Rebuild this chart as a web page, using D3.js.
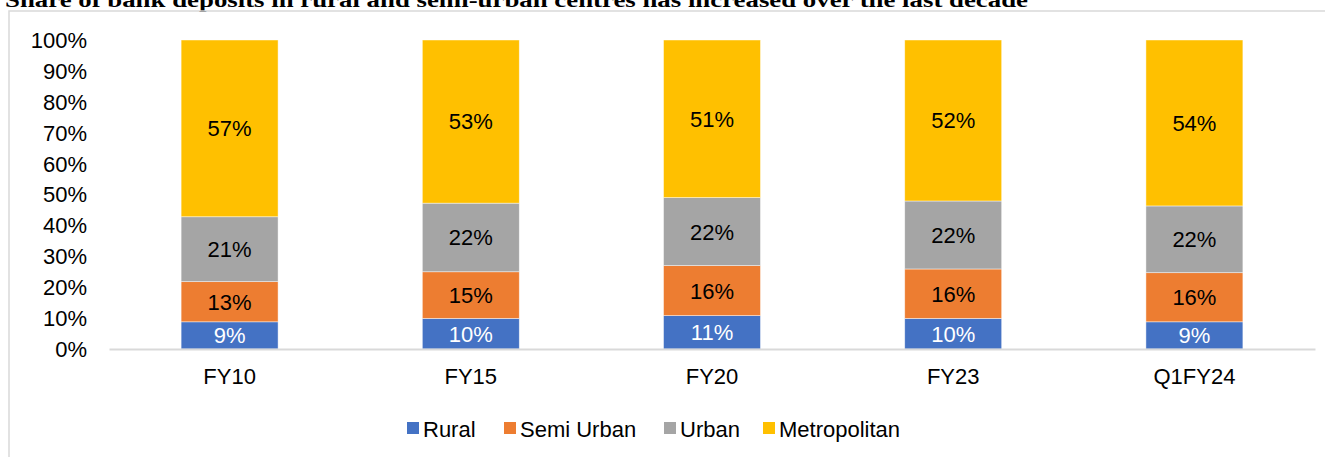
<!DOCTYPE html>
<html>
<head>
<meta charset="utf-8">
<script src="https://cdn.jsdelivr.net/npm/d3@7"></script>
<style>
  body { margin: 0; background: #fff; }
  svg { display: block; }
</style>
</head>
<body>
<div id="chart"></div>
<script>
// data (percent share of deposits)
const categories = ["FY10", "FY15", "FY20", "FY23", "Q1FY24"];
const seriesNames = ["Rural", "Semi Urban", "Urban", "Metropolitan"];
const rural = [8.8, 9.9, 10.8, 9.9, 8.8];
const semiUrban = [13.0, 15.1, 16.2, 16.0, 15.9];
const urban = [21.0, 22.2, 22.0, 22.0, 21.6];
const metropolitan = [57.2, 52.8, 51.0, 52.1, 53.7];
const labels = [
  ["9%", "10%", "11%", "10%", "9%"],
  ["13%", "15%", "16%", "16%", "16%"],
  ["21%", "22%", "22%", "22%", "22%"],
  ["57%", "53%", "51%", "52%", "54%"]
];
const yTicks = [0, 10, 20, 30, 40, 50, 60, 70, 80, 90, 100];
const title = "Share of bank deposits in rural and semi-urban centres has increased over the last decade";

const colors = ["#4472C4", "#ED7D31", "#A5A5A5", "#FFC000"];
const labelColors = ["#ffffff", "#000000", "#000000", "#000000"];

let width = 1325, height = 457;
let margin = { top: 40, right: 10, bottom: 108, left: 109 };
const FONT = "'Liberation Sans', Arial, sans-serif";
const FS = 22;

const table = categories.map((c, i) => ({
  cat: c,
  "Rural": rural[i],
  "Semi Urban": semiUrban[i],
  "Urban": urban[i],
  "Metropolitan": metropolitan[i]
}));

const stack = d3.stack().keys(seriesNames);
const layers = stack(table);

const svg = d3.select("#chart").append("svg")
  .attr("width", width)
  .attr("height", height);

// title (clipped at top like the source)
svg.append("text")
  .attr("x", 5)
  .attr("y", 7)
  .attr("font-family", "'Liberation Serif', 'Times New Roman', serif")
  .attr("font-weight", "bold")
  .attr("font-size", 21)
  .attr("textLength", 1023)
  .attr("lengthAdjust", "spacingAndGlyphs")
  .text(title);

// chart frame
svg.append("rect")
  .attr("x", 9)
  .attr("y", 11)
  .attr("width", width)
  .attr("height", height)
  .attr("fill", "none")
  .attr("stroke", "#d9d9d9")
  .attr("stroke-width", 1.5);

let x = d3.scaleBand()
  .domain(categories)
  .range([margin.left, 1315])
  .paddingInner(0.598)
  .paddingOuter(0.299);

let y = d3.scaleLinear()
  .domain([0, 100])
  .range([349, 40]);

// y tick labels
svg.append("g")
  .selectAll("text")
  .data(yTicks)
  .join("text")
  .attr("x", 87)
  .attr("y", d => y(d))
  .attr("dy", "0.36em")
  .attr("text-anchor", "end")
  .attr("font-family", FONT)
  .attr("font-size", FS)
  .attr("fill", "#000")
  .text(d => d + "%");

// bars
const g = svg.append("g");
layers.forEach((layer, si) => {
  g.append("g")
    .selectAll("rect")
    .data(layer)
    .join("rect")
    .attr("x", d => x(d.data.cat))
    .attr("y", d => y(d[1]))
    .attr("width", x.bandwidth())
    .attr("height", d => y(d[0]) - y(d[1]))
    .attr("fill", colors[si])
    .attr("stroke", "#ffffff")
    .attr("stroke-opacity", 0.6)
    .attr("stroke-width", 0.75);
});

// data labels
layers.forEach((layer, si) => {
  g.append("g")
    .selectAll("text")
    .data(layer)
    .join("text")
    .attr("x", d => x(d.data.cat) + x.bandwidth() / 2)
    .attr("y", d => y((d[0] + d[1]) / 2))
    .attr("dy", "0.36em")
    .attr("text-anchor", "middle")
    .attr("font-family", FONT)
    .attr("font-size", FS)
    .attr("fill", labelColors[si])
    .text((d, i) => labels[si][i]);
});

// x axis
const xAxis = d3.axisBottom(x).tickSize(0).tickPadding(19);
const axisG = svg.append("g")
  .attr("transform", "translate(0,349)")
  .call(xAxis);
axisG.select(".domain").attr("stroke", "#d9d9d9").attr("stroke-width", 2);
axisG.selectAll("text")
  .attr("font-family", FONT)
  .attr("font-size", FS)
  .attr("fill", "#000");

// legend
const legendX = [407, 504, 664, 763];
const legend = svg.append("g");
seriesNames.forEach((name, i) => {
  legend.append("rect")
    .attr("x", legendX[i])
    .attr("y", 422)
    .attr("width", 12)
    .attr("height", 12)
    .attr("fill", colors[i]);
  legend.append("text")
    .attr("x", legendX[i] + 16)
    .attr("y", 429)
    .attr("dy", "0.36em")
    .attr("font-family", FONT)
    .attr("font-size", FS)
    .attr("fill", "#000")
    .text(name);
});
</script>
</body>
</html>
